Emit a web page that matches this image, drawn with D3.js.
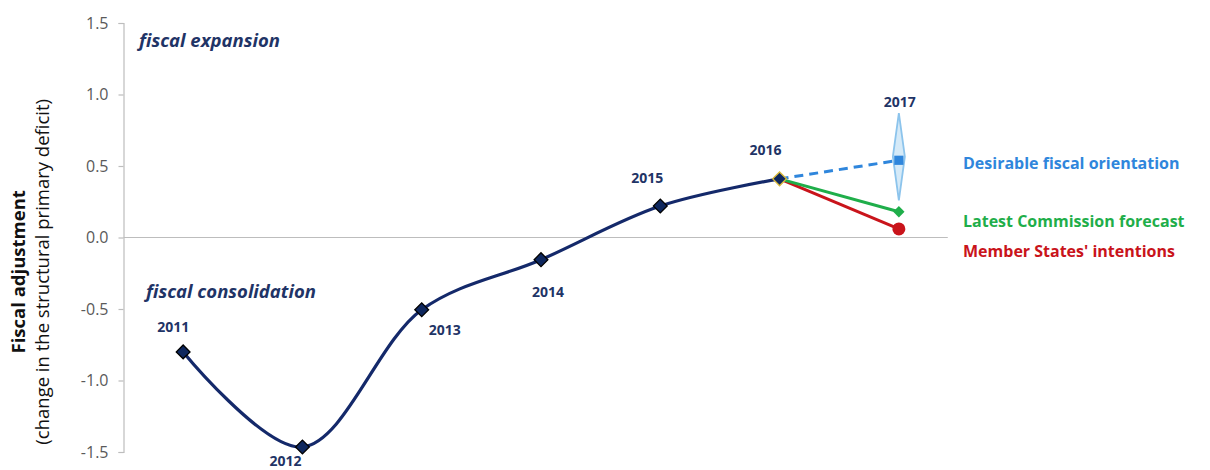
<!DOCTYPE html>
<html>
<head>
<meta charset="utf-8">
<script src="https://cdn.jsdelivr.net/npm/d3@7"></script>
<style>
  html, body { margin: 0; padding: 0; background: #fff; }
  svg { display: block; }
</style>
</head>
<body>
<svg id="chart" width="1210" height="470"></svg>
<script>
// ---- data ----
const years = [2011, 2012, 2013, 2014, 2015, 2016];
const adjustment = [-0.80, -1.465, -0.505, -0.155, 0.22, 0.41];
const forecastYear = 2017;
const desirable = 0.54;
const desirableRange = [0.26, 0.87];
const commission = 0.18;
const memberStates = 0.06;
const yTicks = [-1.5, -1.0, -0.5, 0.0, 0.5, 1.0, 1.5];
const seriesNames = ["Desirable fiscal orientation", "Latest Commission forecast", "Member States' intentions"];
const zoneLabels = ["fiscal expansion", "fiscal consolidation"];
const yTitle = ["Fiscal adjustment", "(change in the structural primary  deficit)"];

// ---- layout ----
const svg = d3.select("#chart");
const x = d3.scaleLinear().domain([2010.5, 2017.5]).range([123.5, 958.5]);
const y = d3.scaleLinear().domain([-1.5, 1.5]).range([452, 23]);

const navy = "#14296a", labelNavy = "#1f3466";
const blue = "#2f86dc", green = "#1fae4a", red = "#c9141b";
const font = "'Open Sans', Lato, sans-serif";

// zero line
svg.append("line")
  .attr("x1", x(2010.5)).attr("x2", x(2017.41))
  .attr("y1", y(0)).attr("y2", y(0))
  .attr("stroke", "#bdbdbd").attr("stroke-width", 1.2);

// y axis
const yAxis = d3.axisLeft(y).tickValues(yTicks).tickSize(5).tickPadding(10)
  .tickFormat(d => d3.format(".1f")(d).replace("\u2212", "-"));
const ga = svg.append("g").attr("transform", `translate(${x(2010.5)},0)`).call(yAxis);
ga.select(".domain").attr("stroke", "#bdbdbd").attr("stroke-width", 1.2);
ga.selectAll(".tick line").attr("stroke", "#bdbdbd").attr("stroke-width", 1.2);
ga.selectAll(".tick text").attr("fill", "#5a5a5a").style("font-family", font).style("font-size", "16px");

// y title
const yt = svg.append("g").attr("transform", `translate(0,${y(-0.24)}) rotate(-90)`);
yt.append("text").attr("x", 0).attr("y", 25).attr("text-anchor", "middle")
  .style("font-family", font).style("font-weight", "bold").style("font-size", "18.5px").attr("fill", "#111")
  .text(yTitle[0]);
yt.append("text").attr("x", 0).attr("y", 49).attr("text-anchor", "middle")
  .style("font-family", font).style("font-size", "18.5px").attr("fill", "#111")
  .text(yTitle[1]);

// zone labels
svg.append("text").attr("x", 139).attr("y", y(1.33))
  .style("font-family", font).style("font-style", "italic").style("font-weight", "bold")
  .style("font-size", "18.5px").attr("fill", labelNavy).text(zoneLabels[0]);
svg.append("text").attr("x", 146).attr("y", y(-0.42))
  .style("font-family", font).style("font-style", "italic").style("font-weight", "bold")
  .style("font-size", "18.5px").attr("fill", labelNavy).text(zoneLabels[1]);

// 2017 range shape (desirable orientation range)
const cx17 = x(forecastYear);
svg.append("path")
  .attr("d", `M${cx17},${y(desirableRange[1])} L${cx17 + 6},${y((desirableRange[0] + desirableRange[1]) / 2)} L${cx17},${y(desirableRange[0])} L${cx17 - 6},${y((desirableRange[0] + desirableRange[1]) / 2)} Z`)
  .attr("fill", "#d3e9f8").attr("stroke", "#86c1ec").attr("stroke-width", 1.8).attr("opacity", 0.95);

// projection lines
const last = adjustment[adjustment.length - 1];
const lastYear = years[years.length - 1];
svg.append("line").attr("x1", x(lastYear)).attr("y1", y(last)).attr("x2", x(forecastYear)).attr("y2", y(memberStates))
  .attr("stroke", red).attr("stroke-width", 3);
svg.append("line").attr("x1", x(lastYear)).attr("y1", y(last)).attr("x2", x(forecastYear)).attr("y2", y(commission))
  .attr("stroke", green).attr("stroke-width", 3);
svg.append("line").attr("x1", x(lastYear)).attr("y1", y(last)).attr("x2", x(forecastYear)).attr("y2", y(desirable))
  .attr("stroke", blue).attr("stroke-width", 3).attr("stroke-dasharray", "9,6");

// main smoothed line
const pts = years.map((yr, i) => [x(yr), y(adjustment[i])]);
svg.append("path")
  .attr("d", d3.line().curve(d3.curveCatmullRom.alpha(0.5))(pts))
  .attr("fill", "none").attr("stroke", navy).attr("stroke-width", 3.2);

// markers
svg.selectAll("path.mk").data(years).join("path")
  .attr("class", "mk")
  .attr("d", d3.symbol(d3.symbolSquare, 95)())
  .attr("transform", (d, i) => `translate(${x(d)},${y(adjustment[i])}) rotate(45)`)
  .attr("fill", "#0e275e")
  .attr("stroke", (d, i) => i === years.length - 1 ? "#d9b93a" : "#000")
  .attr("stroke-width", 1.3);

// 2017 markers
svg.append("path").attr("d", d3.symbol(d3.symbolSquare, 85)())
  .attr("transform", `translate(${cx17},${y(desirable)})`).attr("fill", blue);
svg.append("path").attr("d", d3.symbol(d3.symbolSquare, 64)())
  .attr("transform", `translate(${cx17},${y(commission)}) rotate(45)`).attr("fill", green);
svg.append("circle").attr("cx", cx17).attr("cy", y(memberStates)).attr("r", 6.5).attr("fill", red);

// year labels
const offs = [[-10, -20], [-17, 19], [23, 25], [7, 37], [-13, -23], [-14, -24]];
svg.selectAll("text.yr").data(years).join("text")
  .attr("class", "yr")
  .attr("x", (d, i) => x(d) + offs[i][0])
  .attr("y", (d, i) => y(adjustment[i]) + offs[i][1])
  .attr("text-anchor", "middle")
  .style("font-family", font).style("font-weight", "bold").style("font-size", "14px")
  .attr("fill", labelNavy).text(d => d);
svg.append("text").attr("x", cx17 + 1).attr("y", y(desirableRange[1]) - 6)
  .attr("text-anchor", "middle")
  .style("font-family", font).style("font-weight", "bold").style("font-size", "14px")
  .attr("fill", labelNavy).text(forecastYear);

// series labels
const lx = 963;
[[seriesNames[0], blue, y(desirable) + 9], [seriesNames[1], green, y(commission) + 15], [seriesNames[2], red, y(memberStates) + 28]]
  .forEach(([t, c, yy]) => {
    svg.append("text").attr("x", lx).attr("y", yy)
      .style("font-family", font).style("font-weight", "bold").style("font-size", "16px")
      .attr("fill", c).text(t);
  });
</script>
</body>
</html>
